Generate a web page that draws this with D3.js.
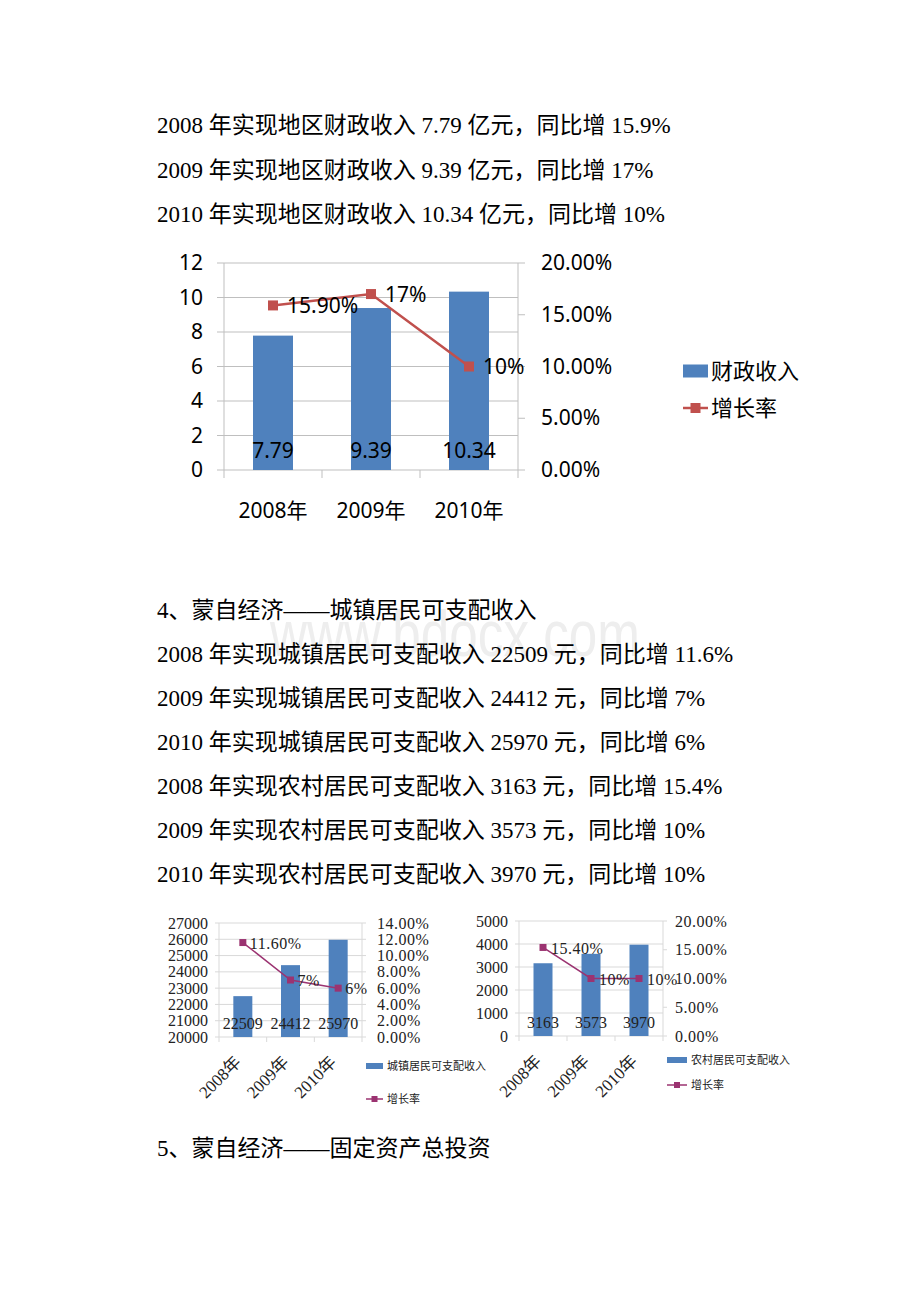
<!DOCTYPE html>
<html>
<head>
<meta charset="utf-8">
<script src="https://cdn.jsdelivr.net/npm/d3@7/dist/d3.min.js"></script>
<style>
  body { margin: 0; background: #fff; }
  svg { display: block; }
</style>
</head>
<body>
<div id="page"></div>
<script>
'use strict'

// data
var years = ['2008', '2009', '2010'];
var yearLabels = ['2008年', '2009年', '2010年'];

var revenue = [7.79, 9.39, 10.34];
var revenueGrowth = [0.159, 0.17, 0.10];
var revenueGrowthLabels = ['15.90%', '17%', '10%'];
var revenueTicks = [0, 2, 4, 6, 8, 10, 12];
var revenueRateTicks = [0, 0.05, 0.10, 0.15, 0.20];

var urbanIncome = [22509, 24412, 25970];
var urbanGrowth = [0.116, 0.07, 0.06];
var urbanGrowthLabels = ['11.60%', '7%', '6%'];
var urbanTicks = [20000, 21000, 22000, 23000, 24000, 25000, 26000, 27000];
var urbanRateTicks = [0, 0.02, 0.04, 0.06, 0.08, 0.10, 0.12, 0.14];

var ruralIncome = [3163, 3573, 3970];
var ruralGrowth = [0.154, 0.10, 0.10];
var ruralGrowthLabels = ['15.40%', '10%', '10%'];
var ruralTicks = [0, 1000, 2000, 3000, 4000, 5000];
var ruralRateTicks = [0, 0.05, 0.10, 0.15, 0.20];

var SANS = '"Noto Sans", "Noto Sans CJK SC", sans-serif';
var SERIF = '"Liberation Serif", "Noto Sans CJK SC", serif';

var pct = d3.format('.1~f');
var rateFmt = d3.format('.2%');

var svg = d3.select('#page').append('svg')
  .attr('width', 920)
  .attr('height', 1302)
  .style('background', '#fff');

// watermark
svg.append('text')
  .attr('x', 270)
  .attr('y', 656)
  .attr('textLength', 370)
  .attr('lengthAdjust', 'spacingAndGlyphs')
  .attr('fill', '#eeeeee')
  .style('font-family', '"Liberation Sans", Arial, sans-serif')
  .style('font-size', '64px')
  .text('www.bdocx.com');

// body text
function para(y, str) {
  svg.append('text')
    .attr('x', 157)
    .attr('y', y)
    .attr('fill', '#000')
    .style('font-family', SERIF)
    .style('font-size', '23px')
    .text(str);
}

years.forEach(function(yr, i) {
  para(133 + i * 44.5, yr + ' 年实现地区财政收入 ' + revenue[i] + ' 亿元，同比增 ' + pct(revenueGrowth[i] * 100) + '%');
});

para(618, '4、蒙自经济——城镇居民可支配收入');
years.forEach(function(yr, i) {
  para(662 + i * 44, yr + ' 年实现城镇居民可支配收入 ' + urbanIncome[i] + ' 元，同比增 ' + pct(urbanGrowth[i] * 100) + '%');
});
years.forEach(function(yr, i) {
  para(794 + i * 44, yr + ' 年实现农村居民可支配收入 ' + ruralIncome[i] + ' 元，同比增 ' + pct(ruralGrowth[i] * 100) + '%');
});
para(1156, '5、蒙自经济——固定资产总投资');

// combo chart: bars on left axis, growth line on right axis
function drawChart(c) {
  var g = svg.append('g');

  var x = d3.scaleBand().domain(c.categories).range([c.left, c.right]);
  var y = d3.scaleLinear()
    .domain([c.ticks[0], c.ticks[c.ticks.length - 1]])
    .range([c.bottom, c.top]);
  var yr = d3.scaleLinear()
    .domain([0, c.rateTicks[c.rateTicks.length - 1]])
    .range([c.bottom, c.top]);

  // gridlines
  g.selectAll('line.grid')
    .data(c.ticks)
    .enter()
    .append('line')
    .attr('class', 'grid')
    .attr('x1', c.left - c.tickLen)
    .attr('x2', c.right)
    .attr('y1', function(d) { return y(d); })
    .attr('y2', function(d) { return y(d); })
    .attr('stroke', c.gridColor)
    .attr('stroke-width', 1);

  // right axis ticks
  g.selectAll('line.rtick')
    .data(c.rateTicks)
    .enter()
    .append('line')
    .attr('class', 'rtick')
    .attr('x1', c.right)
    .attr('x2', c.right + c.tickLen)
    .attr('y1', function(d) { return yr(d); })
    .attr('y2', function(d) { return yr(d); })
    .attr('stroke', c.gridColor);

  // frame sides
  g.selectAll('line.side')
    .data([c.left, c.right])
    .enter()
    .append('line')
    .attr('class', 'side')
    .attr('x1', function(d) { return d; })
    .attr('x2', function(d) { return d; })
    .attr('y1', c.top)
    .attr('y2', c.bottom + c.catTick)
    .attr('stroke', c.gridColor);

  // category boundary ticks
  var bounds = c.categories.map(function(d) { return x(d); }).slice(1);
  g.selectAll('line.ctick')
    .data(bounds)
    .enter()
    .append('line')
    .attr('class', 'ctick')
    .attr('x1', function(d) { return d; })
    .attr('x2', function(d) { return d; })
    .attr('y1', c.bottom)
    .attr('y2', c.bottom + c.catTick)
    .attr('stroke', c.gridColor);

  // left axis labels
  var leftAxis = d3.axisLeft(y)
    .tickValues(c.ticks)
    .tickSize(0)
    .tickPadding(c.left - c.leftLabelX)
    .tickFormat(d3.format('d'));
  var la = g.append('g')
    .attr('transform', 'translate(' + c.left + ',0)')
    .call(leftAxis);
  la.select('.domain').remove();
  la.selectAll('text')
    .attr('fill', c.textColor)
    .style('font-family', c.font)
    .style('font-size', c.fontSize + 'px');

  // right axis labels
  var rightAxis = d3.axisRight(yr)
    .tickValues(c.rateTicks)
    .tickSize(0)
    .tickPadding(c.rightLabelX - c.right)
    .tickFormat(rateFmt);
  var ra = g.append('g')
    .attr('transform', 'translate(' + c.right + ',0)')
    .call(rightAxis);
  ra.select('.domain').remove();
  ra.selectAll('text')
    .attr('fill', c.textColor)
    .attr('letter-spacing', c.rateSpacing || 0)
    .style('font-family', c.font)
    .style('font-size', c.fontSize + 'px');

  // bars
  var bw = c.barWidth;
  g.selectAll('rect.bar')
    .data(c.values)
    .enter()
    .append('rect')
    .attr('class', 'bar')
    .attr('x', function(d, i) { return x(c.categories[i]) + (x.bandwidth() - bw) / 2; })
    .attr('y', function(d) { return y(d); })
    .attr('width', bw)
    .attr('height', function(d) { return c.bottom - y(d); })
    .attr('fill', c.barColor);

  // bar value labels (inside base)
  g.selectAll('text.bval')
    .data(c.values)
    .enter()
    .append('text')
    .attr('class', 'bval')
    .attr('x', function(d, i) { return x(c.categories[i]) + x.bandwidth() / 2; })
    .attr('y', c.bottom - c.barLabelOffset)
    .attr('text-anchor', 'middle')
    .attr('fill', c.textColor)
    .style('font-family', c.font)
    .style('font-size', c.fontSize + 'px')
    .text(function(d) { return d; });

  // growth line
  var cx = function(d, i) { return x(c.categories[i]) + x.bandwidth() / 2; };
  var line = d3.line()
    .x(function(d, i) { return cx(d, i); })
    .y(function(d) { return yr(d); });

  g.append('path')
    .datum(c.rates)
    .attr('d', line)
    .attr('fill', 'none')
    .attr('stroke', c.lineColor)
    .attr('stroke-width', c.lineWidth);

  g.selectAll('rect.mk')
    .data(c.rates)
    .enter()
    .append('rect')
    .attr('class', 'mk')
    .attr('x', function(d, i) { return cx(d, i) - c.marker / 2; })
    .attr('y', function(d) { return yr(d) - c.marker / 2; })
    .attr('width', c.marker)
    .attr('height', c.marker)
    .attr('fill', c.lineColor);

  g.selectAll('text.rval')
    .data(c.rates)
    .enter()
    .append('text')
    .attr('class', 'rval')
    .attr('x', function(d, i) { return cx(d, i) + c.rateLabelDx; })
    .attr('y', function(d) { return yr(d); })
    .attr('dy', '0.38em')
    .attr('fill', c.textColor)
    .attr('letter-spacing', c.rateSpacing || 0)
    .style('font-family', c.font)
    .style('font-size', c.fontSize + 'px')
    .text(function(d, i) { return c.rateLabels[i]; });

  // category labels
  var cl = g.selectAll('text.cat')
    .data(c.categories)
    .enter()
    .append('text')
    .attr('class', 'cat')
    .attr('fill', c.textColor)
    .style('font-family', c.font)
    .style('font-size', c.catFontSize + 'px')
    .text(function(d) { return d; });
  if (c.rotate) {
    cl.attr('text-anchor', 'end')
      .attr('dy', '0.35em')
      .attr('transform', function(d) {
        return 'translate(' + (x(d) + x.bandwidth() / 2 + c.catDx) + ',' + (c.bottom + c.catDy) + ') rotate(-45)';
      });
  } else {
    cl.attr('text-anchor', 'middle')
      .attr('x', function(d) { return x(d) + x.bandwidth() / 2; })
      .attr('y', c.bottom + c.catDy);
  }

  // legend
  var lg = g.append('g').attr('transform', 'translate(' + c.legendX + ',' + c.legendY + ')');
  lg.append('rect')
    .attr('x', 0)
    .attr('y', -c.legendRectH / 2)
    .attr('width', c.legendW)
    .attr('height', c.legendRectH)
    .attr('fill', c.barColor);
  lg.append('text')
    .attr('x', c.legendW + c.legendGap)
    .attr('y', 0)
    .attr('dy', '0.36em')
    .attr('fill', c.textColor)
    .style('font-family', c.font)
    .style('font-size', c.legendFont + 'px')
    .text(c.barName);
  lg.append('line')
    .attr('x1', 0)
    .attr('x2', c.legendW)
    .attr('y1', c.legendStep)
    .attr('y2', c.legendStep)
    .attr('stroke', c.lineColor)
    .attr('stroke-width', c.lineWidth);
  lg.append('rect')
    .attr('x', c.legendW / 2 - c.legendMarker / 2)
    .attr('y', c.legendStep - c.legendMarker / 2)
    .attr('width', c.legendMarker)
    .attr('height', c.legendMarker)
    .attr('fill', c.lineColor);
  lg.append('text')
    .attr('x', c.legendW + c.legendGap)
    .attr('y', c.legendStep)
    .attr('dy', '0.36em')
    .attr('fill', c.textColor)
    .style('font-family', c.font)
    .style('font-size', c.legendFont + 'px')
    .text('增长率');
}

drawChart({
  categories: yearLabels, values: revenue, rates: revenueGrowth, rateLabels: revenueGrowthLabels,
  ticks: revenueTicks, rateTicks: revenueRateTicks, barName: '财政收入',
  left: 224, right: 518, top: 263, bottom: 470,
  leftLabelX: 203, rightLabelX: 541, tickLen: 7, catTick: 8,
  barWidth: 40, barLabelOffset: 12, rateLabelDx: 14,
  font: SANS, fontSize: 21, catFontSize: 21, catDy: 48, rotate: false,
  gridColor: '#bfbfbf', textColor: '#000', barColor: '#4f81bd', lineColor: '#c0504d',
  lineWidth: 2.5, marker: 10,
  legendX: 683, legendY: 371, legendW: 25, legendRectH: 13, legendGap: 3, legendStep: 37,
  legendFont: 22, legendMarker: 10
});

drawChart({
  categories: yearLabels, values: urbanIncome, rates: urbanGrowth, rateLabels: urbanGrowthLabels,
  ticks: urbanTicks, rateTicks: urbanRateTicks, barName: '城镇居民可支配收入',
  left: 219, right: 362, top: 923, bottom: 1037,
  leftLabelX: 208, rightLabelX: 377, tickLen: 4, catTick: 5,
  barWidth: 19, barLabelOffset: 8, rateLabelDx: 7, rateSpacing: 0.5,
  font: SERIF, fontSize: 16, catFontSize: 17, catDx: -5, catDy: 22, rotate: true,
  gridColor: '#d9d9d9', textColor: '#222', barColor: '#4f81bd', lineColor: '#9b3371',
  lineWidth: 1.5, marker: 7,
  legendX: 366, legendY: 1066, legendW: 17, legendRectH: 6, legendGap: 4, legendStep: 33,
  legendFont: 11, legendMarker: 6
});

drawChart({
  categories: yearLabels, values: ruralIncome, rates: ruralGrowth, rateLabels: ruralGrowthLabels,
  ticks: ruralTicks, rateTicks: ruralRateTicks, barName: '农村居民可支配收入',
  left: 519, right: 663, top: 921, bottom: 1036,
  leftLabelX: 508, rightLabelX: 675, tickLen: 4, catTick: 5,
  barWidth: 19, barLabelOffset: 8, rateLabelDx: 8, rateSpacing: 0.5,
  font: SERIF, fontSize: 16, catFontSize: 17, catDx: -5, catDy: 22, rotate: true,
  gridColor: '#d9d9d9', textColor: '#222', barColor: '#4f81bd', lineColor: '#9b3371',
  lineWidth: 1.5, marker: 7,
  legendX: 667, legendY: 1060, legendW: 20, legendRectH: 6, legendGap: 4, legendStep: 25,
  legendFont: 11, legendMarker: 6
});
</script>
</body>
</html>
